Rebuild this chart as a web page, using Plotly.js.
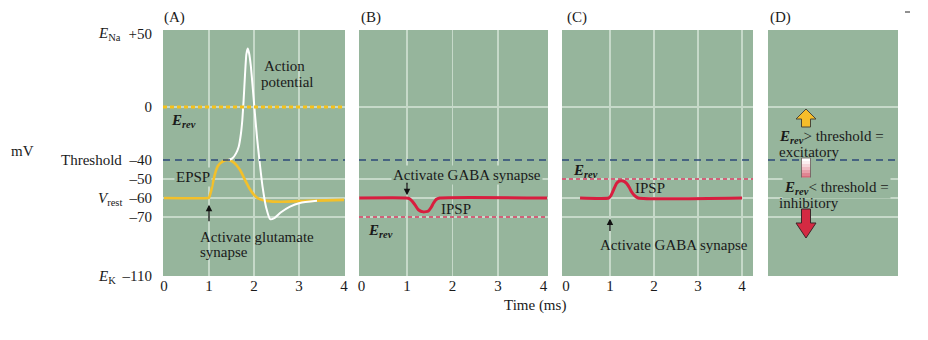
<!DOCTYPE html>
<html><head><meta charset="utf-8">
<script src="https://cdn.plot.ly/plotly-3.0.1.min.js"></script>
<style>html,body{margin:0;padding:0;background:#fff}#chart{width:928px;height:340px}</style>
</head><body><div id="chart"></div>
<script>
// ---------------- data ----------------
const timeTicks = [0, 1, 2, 3, 4];
const mvTickVals = [50, 0, -40, -50, -60, -70, -110];
const mvTickText = ['+50', '0', '\u201340', '\u201350', '\u201360', '\u201370', '\u2013110'];
const gridMv = [0, -50, -60, -70];
const threshold = -40;
const erevA = 0, erevB = -70, erevC = -50;

// (A) EPSP and action potential
const epspT = [0, 0.98, 1.0, 1.05, 1.1, 1.15, 1.2, 1.3, 1.43, 1.55, 1.69, 1.8, 1.9, 2.0, 2.1, 2.28, 2.6, 3.2, 4.0];
const epspV = [-60, -60, -59.8, -56, -50.5, -46, -43, -40.8, -40, -41.3, -45.3, -50.5, -55, -58.3, -60.3, -61.5, -62, -61.5, -61];
const apT = [1.43, 1.52, 1.6, 1.66, 1.71, 1.74, 1.77, 1.8, 1.83, 1.86, 1.89, 1.93, 1.97, 2.02, 2.07, 2.12, 2.19, 2.27, 2.36, 2.45, 2.6, 2.8, 3.02, 3.4];
const apV = [-40, -38.8, -35, -30, -20, -10, 5, 22, 36, 40, 37, 28, 14, -5, -24, -40, -54, -65, -71.5, -70.8, -67.5, -64.5, -62.6, -61.5];
// (B) IPSP toward E_rev below rest
const ipspBT = [-0.05, 0.98, 1.05, 1.12, 1.18, 1.25, 1.36, 1.47, 1.53, 1.58, 1.64, 1.72, 4.08];
const ipspBV = [-60, -60, -60.3, -61.8, -63.8, -66.2, -67.3, -66.8, -65, -62.8, -60.8, -60, -60];
// (C) IPSP toward E_rev above rest (but below threshold)
const ipspCT = [0.32, 0.97, 1.02, 1.08, 1.15, 1.21, 1.27, 1.33, 1.38, 1.44, 1.49, 1.56, 1.64, 4.0];
const ipspCV = [-60, -60, -58.8, -55.8, -52.3, -51.1, -50.9, -51.4, -52.4, -54.5, -56.7, -58.8, -60, -60];

// schematic (non-linear) voltage scale used by the figure: mV -> axis units
const scaleMv = [50, 0, -40, -50, -60, -70, -110];
const scalePos = [242, 169, 116, 97, 78, 59, 0];
function toAxis(v) {
  for (let i = 0; i < scaleMv.length - 1; i++) {
    const a = scaleMv[i], b = scaleMv[i + 1];
    if (v <= a && v >= b) return scalePos[i] + (v - a) / (b - a) * (scalePos[i + 1] - scalePos[i]);
  }
  return v > scaleMv[0] ? scalePos[0] : scalePos[scalePos.length - 1];
}

// ---------------- styling ----------------
const W = 928, H = 340;
const FONT = 'Liberation Serif, Times New Roman, serif';
const FS = 15;
const BG = '#96b59c';
const GRID = '#c6d9c9';
const TXT = '#1a1a1a';
const RED = '#d81e3f';
const YEL = '#f3c02a';
const px = x => x / W;
const py = y => 1 - y / H;
const yDom = [py(276), py(30)];

const traces = [
  {x: epspT, y: epspV.map(toAxis), xaxis: 'x', yaxis: 'y', mode: 'lines',
   line: {color: YEL, width: 2.6, shape: 'spline', smoothing: 0.5}},
  {x: apT, y: apV.map(toAxis), xaxis: 'x', yaxis: 'y', mode: 'lines',
   line: {color: '#ffffff', width: 2, shape: 'spline', smoothing: 0.5}},
  {x: ipspBT, y: ipspBV.map(toAxis), xaxis: 'x2', yaxis: 'y2', mode: 'lines',
   line: {color: RED, width: 3, shape: 'spline', smoothing: 0.5}},
  {x: ipspCT, y: ipspCV.map(toAxis), xaxis: 'x3', yaxis: 'y3', mode: 'lines',
   line: {color: RED, width: 3, shape: 'spline', smoothing: 0.5}}
];

function xAx(domPx, range, gridVals, showLabels) {
  return {
    domain: [px(domPx[0]), px(domPx[1])], range: range, showgrid: false, zeroline: false,
    tickmode: 'array', tickvals: showLabels ? timeTicks : [], ticktext: timeTicks.map(String),
    showticklabels: showLabels, ticks: '', ticklabelstandoff: -1,
    tickfont: {family: FONT, size: FS, color: TXT}, fixedrange: true,
    minor: {tickmode: 'array', tickvals: gridVals, showgrid: true, gridcolor: GRID, gridwidth: 1.3, ticks: ''}
  };
}
function yAx(anchor, showLabels) {
  return {
    domain: yDom, range: [0, 246], anchor: anchor, showgrid: false, zeroline: false,
    tickmode: 'array', tickvals: mvTickVals.map(toAxis), ticktext: mvTickText,
    showticklabels: showLabels, ticks: showLabels ? 'outside' : '', ticklen: 7, tickcolor: 'rgba(0,0,0,0)',
    tickfont: {family: FONT, size: FS, color: TXT}, fixedrange: true,
    minor: {tickmode: 'array', tickvals: gridMv.map(toAxis), showgrid: true, gridcolor: GRID, gridwidth: 1.3, ticks: ''}
  };
}

const layout = {
  width: W, height: H, margin: {l: 0, r: 0, t: 0, b: 0},
  paper_bgcolor: '#ffffff', plot_bgcolor: BG, showlegend: false,
  font: {family: FONT, size: FS, color: TXT},
  xaxis: Object.assign(xAx([163, 345], [-0.022, 4.022], [1, 2, 3], true), {anchor: 'y'}),
  yaxis: yAx('x', true),
  xaxis2: Object.assign(xAx([359, 548], [-0.055, 4.1], [1, 2, 3], true), {anchor: 'y2'}),
  yaxis2: yAx('x2', false),
  xaxis3: Object.assign(xAx([562, 753], [-0.09, 4.25], [1, 2, 3, 4], true), {anchor: 'y3'}),
  yaxis3: yAx('x3', false),
  xaxis4: Object.assign(xAx([768, 898], [0, 1], [], false), {anchor: 'y4'}),
  yaxis4: yAx('x4', false),
  shapes: [],
  annotations: []
};

// reference lines
const thrDash = '7px,5px';
['x', 'x2', 'x3', 'x4'].forEach((xa, i) => {
  const ya = i === 0 ? 'y' : 'y' + (i + 1);
  layout.shapes.push({type: 'line', xref: xa + ' domain', yref: ya, x0: 0, x1: 1,
    y0: toAxis(threshold), y1: toAxis(threshold), line: {color: '#2d4878', width: 1.6, dash: thrDash}});
});
layout.shapes.push({type: 'line', xref: 'x domain', yref: 'y', x0: 0, x1: 1, y0: toAxis(erevA), y1: toAxis(erevA),
  line: {color: '#f6c21a', width: 3, dash: '4px,3px'}});
layout.shapes.push({type: 'line', xref: 'x2 domain', yref: 'y2', x0: 0, x1: 1, y0: toAxis(erevB), y1: toAxis(erevB),
  line: {color: '#d4395e', width: 1.5, dash: '4px,3px'}});
layout.shapes.push({type: 'line', xref: 'x3 domain', yref: 'y3', x0: 0, x1: 1, y0: toAxis(erevC), y1: toAxis(erevC),
  line: {color: '#d4395e', width: 1.5, dash: '4px,3px'}});

// panel D symbols
function pathPx(pts) {
  return 'M' + pts.map(p => px(p[0]) + ',' + py(p[1])).join(' L') + ' Z';
}
layout.shapes.push({type: 'path', xref: 'paper', yref: 'paper',
  path: pathPx([[806, 109], [816, 119], [810.5, 119], [810.5, 127], [801.5, 127], [801.5, 119], [796, 119]]),
  fillcolor: '#f5bd2a', line: {color: '#4b4636', width: 1}});
layout.shapes.push({type: 'path', xref: 'paper', yref: 'paper',
  path: pathPx([[801.5, 209], [810.5, 209], [810.5, 223], [816, 223], [806, 238], [796, 223], [801.5, 223]]),
  fillcolor: '#d42a42', line: {color: '#3d2428', width: 1}});
const stripes = ['#ffffff', '#fbeef0', '#f5d6da', '#efbcc3', '#e8a1ab', '#e08592', '#d86a7a'];
const barTop = 158, barBot = 179, sh = (barBot - barTop) / stripes.length;
stripes.forEach((c, i) => {
  layout.shapes.push({type: 'rect', xref: 'paper', yref: 'paper', x0: px(801.5), x1: px(810.5),
    y0: py(barTop + i * sh), y1: py(barTop + (i + 1) * sh + 0.3), fillcolor: c, line: {width: 0}});
});
layout.shapes.push({type: 'rect', xref: 'paper', yref: 'paper', x0: px(801.5), x1: px(810.5),
  y0: py(barTop), y1: py(barBot), line: {color: '#6a5a5c', width: 0.8}});
// small mark at top right
layout.shapes.push({type: 'line', xref: 'paper', yref: 'paper', x0: px(905), x1: px(910), y0: py(12), y1: py(12),
  line: {color: '#222', width: 1}});

// text
function T(text, x, y, xanchor, opts) {
  return Object.assign({text: text, xref: 'paper', yref: 'paper', x: px(x), y: py(y),
    xanchor: xanchor || 'left', yanchor: 'middle', showarrow: false,
    font: {family: FONT, size: FS, color: TXT}}, opts || {});
}
const erevTxt = '<b><i>E</i></b><sub><b><i>rev</i></b></sub>';
layout.annotations.push(
  T('(A)', 162, 17), T('(B)', 359, 17), T('(C)', 565, 17), T('(D)', 768, 17),
  T('mV', 9, 151),
  T('<i>E</i><sub>Na</sub>', 96, 34),
  T('Threshold', 124, 160, 'right'),
  T('<i>V</i><sub>rest</sub>', 96, 199),
  T('<i>E</i><sub>K</sub>', 96, 277),
  T('Time (ms)', 535, 305, 'center'),
  // panel A
  T('Action', 284, 66, 'center'), T('potential', 287, 82, 'center'),
  T(erevTxt, 169, 121),
  T('EPSP', 193, 177, 'center', {bgcolor: BG}),
  T('Activate glutamate', 198, 237), T('synapse', 198, 252),
  // panel B
  T('Activate GABA synapse', 467, 175, 'center', {bgcolor: BG}),
  T('IPSP', 456, 209, 'center'),
  T(erevTxt, 366, 231),
  // panel C
  T(erevTxt, 571, 171),
  T('IPSP', 650, 188, 'center'),
  T('Activate GABA synapse', 674, 245, 'center'),
  // panel D
  T(erevTxt + '> threshold =', 777, 137),
  T('excitatory', 777, 152),
  T(erevTxt + '< threshold =', 782, 188, 'left', {bgcolor: BG}),
  T('inhibitory', 777, 203)
);
// stimulus arrows
function arrow(xa, ya, xv, mvTip, ay) {
  return {xref: xa, yref: ya, x: xv, y: toAxis(mvTip), ax: 0, ay: ay, text: '', showarrow: true,
    arrowhead: 2, arrowsize: 1, arrowwidth: 1.3, arrowcolor: '#111'};
}
layout.annotations.push(
  arrow('x', 'y', 1, -63.5, 18),
  arrow('x2', 'y2', 1, -58.5, -14),
  arrow('x3', 'y3', 1, -71, 14)
);

Plotly.newPlot('chart', traces, layout, {displayModeBar: false, staticPlot: true});
</script></body></html>
